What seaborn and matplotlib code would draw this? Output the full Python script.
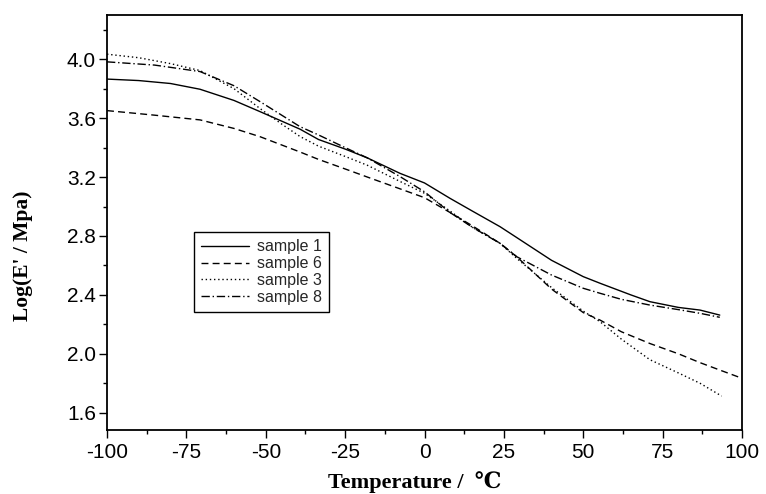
import numpy as np
import pandas as pd
import matplotlib
matplotlib.use("Agg")
import matplotlib.pyplot as plt
import seaborn as sns
from matplotlib.ticker import MultipleLocator

# ---- data ----
t1 = [-100, -90, -80, -70.7, -60, -51.8, -39.2, -33.4, -25, -18, -7.7, 0, 8, 15, 23.8, 29, 40, 50, 55.3, 65, 71, 80, 86.8, 93]
s1 = [3.865, 3.855, 3.835, 3.796, 3.72, 3.644, 3.525, 3.455, 3.39, 3.33, 3.225, 3.16, 3.056, 2.97, 2.863, 2.79, 2.635, 2.524, 2.479, 2.40, 2.354, 2.315, 2.297, 2.263]

t6 = [-100, -85, -70.7, -60, -51.8, -39.2, -33.4, -25, -18, -7.7, 0, 8, 15, 23.8, 29, 40, 50, 55.3, 62, 71, 80, 86.8, 93, 100]
s6 = [3.651, 3.62, 3.588, 3.53, 3.474, 3.37, 3.32, 3.255, 3.20, 3.12, 3.06, 2.96, 2.87, 2.75, 2.66, 2.44, 2.28, 2.229, 2.15, 2.07, 2.00, 1.94, 1.89, 1.834]

t3 = [-100, -90, -80, -70.7, -60, -51.8, -45, -39.2, -33.4, -25, -18, -7.7, 0, 8, 15, 23.8, 29, 40, 50, 55.3, 62, 71, 80, 86.8, 93.6]
s3 = [4.034, 4.01, 3.97, 3.923, 3.80, 3.665, 3.56, 3.475, 3.41, 3.34, 3.28, 3.17, 3.09, 2.97, 2.86, 2.75, 2.649, 2.45, 2.29, 2.218, 2.10, 1.96, 1.87, 1.80, 1.713]

t8 = [-100, -85, -70.7, -60, -51.8, -39.2, -33.4, -25, -18, -7.7, 0, 8, 15, 23.8, 29, 40, 50, 55.3, 62, 71, 80, 86.8, 93]
s8 = [3.982, 3.96, 3.916, 3.82, 3.712, 3.542, 3.486, 3.40, 3.33, 3.203, 3.10, 2.96, 2.86, 2.75, 2.66, 2.535, 2.445, 2.411, 2.37, 2.331, 2.30, 2.275, 2.248]

names = ["sample 1", "sample 6", "sample 3", "sample 8"]
yticks = [1.6, 2.0, 2.4, 2.8, 3.2, 3.6, 4.0]
ytick_labels = ["1.6", "2.0", "2.4", "2.8", "3.2", "3.6", "4.0"]

frames = []
for name, t, s in zip(names, [t1, t6, t3, t8], [s1, s6, s3, s8]):
    frames.append(pd.DataFrame({"Temperature": t, "logE": s, "sample": name}))
df = pd.concat(frames, ignore_index=True)

sns.set_theme(style="ticks")
plt.rcParams["font.family"] = ["Liberation Sans", "DejaVu Sans"]
plt.rcParams["axes.unicode_minus"] = False

fig = plt.figure(figsize=(7.66, 4.94), dpi=100)
ax = fig.add_axes([107/766, 1-430/494, 635/766, 415/494])

dash_map = {
    "sample 1": "",
    "sample 6": (5, 3),
    "sample 3": (1, 2),
    "sample 8": (6, 2, 1, 2),
}
sns.lineplot(data=df, x="Temperature", y="logE", hue="sample", style="sample",
             hue_order=names, style_order=names,
             palette=["black"]*4, dashes=dash_map, linewidth=1.0,
             sort=False, ax=ax, legend=True)

ax.set_xlim(-100, 100)
ax.set_ylim(1.483, 4.30)
ax.xaxis.set_major_locator(MultipleLocator(25))
ax.xaxis.set_minor_locator(MultipleLocator(12.5))
ax.set_yticks(yticks)
ax.set_yticklabels(ytick_labels)
ax.yaxis.set_minor_locator(MultipleLocator(0.2))

ax.tick_params(axis="both", which="major", direction="out", length=6, width=1.0,
               labelsize=15, color="black", labelcolor="black")
ax.tick_params(axis="both", which="minor", direction="out", length=3, width=1.0, color="black")
ax.tick_params(axis="y", pad=2)
ax.tick_params(axis="x", pad=3)
for sp in ax.spines.values():
    sp.set_visible(True)
    sp.set_color("black")
    sp.set_linewidth(1.3)

ax.set_xlabel("Temperature /  ℃", fontsize=16, fontweight="bold",
              family=["Liberation Serif", "DejaVu Serif"], color="black")
ax.set_ylabel("Log(E' / Mpa)", fontsize=15.5, fontweight="bold",
              family=["Liberation Serif", "DejaVu Serif"], color="black")
ax.xaxis.set_label_coords(0.485, -0.098)
ax.yaxis.set_label_coords(-0.117, 0.42)

leg = ax.legend(loc="lower left", bbox_to_anchor=(0.137, 0.284), borderaxespad=0,
                frameon=True, fancybox=False, fontsize=11.5, handlelength=3.0,
                labelspacing=0.12, borderpad=0.45, handletextpad=0.5, title=None)
leg.get_frame().set_edgecolor("black")
leg.get_frame().set_linewidth(1.0)
leg.get_frame().set_alpha(1)

fig.savefig("out.png", dpi=100)
